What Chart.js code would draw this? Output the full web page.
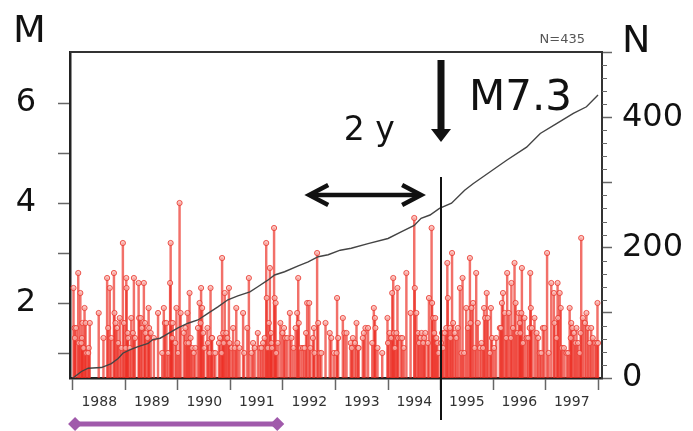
<!DOCTYPE html>
<html>
<head>
<meta charset="utf-8">
<script src="https://cdn.jsdelivr.net/npm/chart.js@4/dist/chart.umd.min.js"></script>
<style>
body{margin:0;background:#fff;}
#c{display:block;}
</style>
</head>
<body>
<canvas id="c" width="693" height="431"></canvas>
<script>
/* events: time (decimal year) and magnitude */
const quakeYears = [
1988.01,1988.03,1988.035,1988.06,1988.10,1988.11,1988.14,1988.16,1988.17,1988.18,
1988.20,1988.22,1988.24,1988.25,1988.29,1988.30,1988.32,1988.49,1988.58,1988.65,
1988.67,1988.70,1988.73,1988.78,1988.79,1988.81,1988.84,1988.86,1988.89,1988.92,
1988.95,1988.97,1989.00,1989.015,1989.02,1989.04,1989.05,1989.08,1989.11,1989.14,
1989.16,1989.18,1989.25,1989.26,1989.29,1989.31,1989.35,1989.37,1989.38,1989.42,
1989.44,1989.45,1989.48,1989.54,1989.62,
1989.70,1989.73,1989.75,1989.78,1989.81,1989.85,1989.86,1989.87,1989.89,1989.90,
1989.95,1989.97,1990.00,1990.03,1990.05,1990.11,1990.14,1990.16,1990.18,1990.20,
1990.22,1990.24,1990.27,1990.30,1990.33,1990.38,1990.41,1990.43,1990.44,1990.46,
1990.48,1990.50,1990.56,1990.57,1990.60,1990.62,1990.64,1990.65,1990.68,1990.71,
1990.78,1990.80,1990.83,1990.84,1990.86,1990.87,1990.89,1990.92,1990.94,1990.97,
1990.98,1991.02,1991.05,1991.08,1991.11,1991.13,1991.17,1991.24,1991.26,1991.32,
1991.35,
1991.40,1991.43,1991.46,1991.52,1991.56,1991.59,1991.62,1991.65,1991.68,1991.69,
1991.71,1991.73,1991.75,1991.77,1991.78,1991.79,1991.83,1991.84,1991.86,1991.87,
1991.90,1991.95,1991.99,1992.02,1992.04,1992.08,1992.13,1992.16,1992.20,1992.24,
1992.27,1992.29,1992.30,1992.34,1992.38,1992.41,1992.44,1992.46,1992.50,1992.52,
1992.57,1992.59,1992.60,1992.65,1992.67,1992.70,1992.73,1992.81,1992.89,1992.92,
1992.97,1993.02,1993.03,1993.05,
1993.14,1993.17,1993.21,1993.29,1993.31,1993.33,1993.37,1993.40,1993.43,1993.44,
1993.52,1993.54,1993.57,1993.62,1993.70,1993.73,1993.75,1993.76,1993.80,1993.89,
1993.99,1994.00,1994.03,1994.06,1994.08,1994.10,1994.11,1994.13,1994.16,1994.18,
1994.19,1994.24,1994.27,1994.30,1994.35,1994.43,1994.50,1994.51,1994.54,1994.57,
1994.59,1994.62,1994.64,1994.67,1994.69,1994.71,1994.76,1994.78,
1994.83,1994.84,1994.86,1994.88,1994.90,1994.92,1995.03,1995.05,1995.08,1995.11,
1995.13,1995.14,1995.18,1995.19,1995.22,1995.24,1995.27,1995.30,1995.33,1995.37,
1995.40,1995.42,1995.45,1995.49,1995.52,1995.56,1995.57,1995.59,1995.62,1995.65,
1995.68,1995.71,1995.75,1995.78,1995.81,1995.83,1995.85,1995.88,1995.90,1995.94,
1995.96,1995.98,1996.02,1996.06,1996.13,1996.15,1996.17,1996.19,1996.22,1996.25,
1996.27,1996.30,1996.34,1996.35,1996.38,1996.41,1996.43,1996.46,1996.49,
1994.94,1994.96,1995.01,
1996.51,1996.52,1996.54,1996.55,1996.57,1996.60,1996.64,1996.67,1996.70,1996.71,
1996.72,1996.74,1996.79,1996.83,1996.86,1996.89,1996.92,1996.95,1996.98,1997.03,
1997.06,1997.11,1997.16,1997.17,1997.21,1997.23,1997.24,1997.27,1997.29,1997.31,
1997.35,1997.40,1997.43,1997.46,1997.48,1997.49,1997.51,1997.54,1997.57,1997.59,
1997.62,1997.65,1997.67,1997.68,1997.71,1997.75,1997.78,1997.81,1997.84,1997.87,
1997.90,1997.94,1997.97,1997.99,1998.00
];
const quakeMags = [
2.3,1.5,1.3,1.5,2.6,1.2,2.2,1.2,1.3,1.6,
1.1,1.9,1.6,1.0,1.0,1.1,1.6,1.8,1.3,2.5,
1.5,2.3,1.3,2.6,1.8,1.6,1.5,1.2,1.7,1.1,
3.2,1.6,1.1,2.5,2.3,1.4,1.3,1.1,1.7,1.4,
2.5,1.3,2.4,1.7,1.7,1.5,2.4,1.6,1.4,1.3,
1.9,1.5,1.4,1.3,1.8,
1.0,1.9,1.6,1.6,1.0,2.4,3.2,1.6,1.3,1.6,
1.2,1.9,1.0,4.0,1.8,1.4,1.5,1.2,1.8,1.2,
2.2,1.3,1.1,1.0,1.1,1.5,2.0,1.6,2.3,1.9,
1.4,1.1,1.5,1.2,1.0,2.3,1.3,1.3,1.0,1.0,
1.2,1.3,1.0,2.9,1.4,1.2,2.2,1.4,1.3,2.3,
1.2,1.1,1.5,1.1,1.9,1.2,1.1,1.8,1.0,1.5,
2.5,
1.0,1.2,1.1,1.4,1.1,1.1,1.2,1.3,3.2,2.1,
1.1,1.6,2.7,1.4,1.2,1.1,3.5,2.1,2.0,1.0,
1.2,1.6,1.4,1.5,1.3,1.3,1.8,1.3,1.1,1.5,
1.8,2.5,1.6,1.1,1.1,1.1,1.4,2.0,2.0,1.1,
1.3,1.5,1.0,3.0,1.6,1.0,1.0,1.6,1.4,1.3,
1.0,1.0,2.1,1.3,
1.7,1.4,1.4,1.2,1.1,1.3,1.2,1.6,1.1,1.1,
1.3,1.4,1.5,1.5,1.2,1.9,1.7,1.5,1.1,1.0,
1.7,1.2,1.4,1.3,2.2,2.5,1.4,1.1,1.4,2.3,
1.3,1.3,1.3,1.1,2.6,1.8,3.7,2.3,1.8,1.4,
1.2,1.3,1.4,1.2,1.3,1.4,1.2,2.1,
3.5,2.0,1.7,1.4,1.7,1.3,1.4,1.1,1.4,1.5,
2.8,2.1,1.5,1.3,3.0,1.6,1.4,1.3,1.5,2.3,
1.0,2.5,1.0,1.9,1.5,2.9,1.6,1.9,2.0,1.1,
2.6,1.6,1.1,1.2,1.1,1.9,1.7,2.2,1.7,1.0,
1.9,1.3,1.1,1.3,1.5,1.5,2.0,2.2,1.8,1.3,
2.6,1.8,1.3,2.4,1.5,2.8,2.0,1.4,1.8,
1.2,1.0,1.2,
1.6,1.4,1.8,2.7,1.2,1.7,1.3,1.3,1.5,2.6,
1.9,1.5,1.7,1.4,1.3,1.0,1.0,1.5,1.5,3.0,
1.0,2.4,2.2,1.6,1.3,2.4,1.7,2.2,1.9,1.1,
1.1,1.0,1.0,1.9,1.3,1.6,1.5,1.4,1.2,1.5,
1.2,1.0,1.4,3.3,1.7,1.6,1.8,1.5,1.2,1.5,
1.3,1.2,1.2,2.0,1.2
];

/* cumulative number of events (right axis) */
const cumYears = [1988.00,1988.16,1988.29,1988.54,1988.73,1988.86,1988.95,1989.08,1989.24,1989.43,
  1989.52,1989.66,1989.81,1990.00,1990.19,1990.38,1990.57,1990.76,1990.95,1991.14,
  1991.37,1991.52,1991.71,1991.84,1992.03,1992.29,1992.48,1992.67,1992.86,1993.09,
  1993.30,1993.62,1994.00,1994.25,1994.50,1994.63,1994.80,1994.98,1995.21,1995.46,
  1995.62,1995.94,1996.26,1996.64,1996.90,1997.21,1997.53,1997.78,1998.00];
const cumCounts = [0,10,15,16,22,30,38,43,48,53,
  59,61,68,77,84,89,99,109,120,126,
  132,140,150,158,163,172,178,186,189,196,
  199,206,214,224,234,245,250,260,268,288,
  298,316,334,354,375,390,406,416,434];

const yearTicks = [1988,1989,1990,1991,1992,1993,1994,1995,1996,1997,1998];
const magTicks = [1,2,3,4,5,6];
const countTicks = [0,100,200,300,400,500];
const totalCount = 435;
const mainshockYear = 1995.0;
const mainshockLabel = "M7.3";
const windowLabel = "2 y";
const windowYears = [1992.48, 1994.65];
const studyYears = [1988.04, 1991.89];

const FONT = "'DejaVu Sans', sans-serif";
const RED = "rgba(236,44,34,0.68)";

const annot = {
  id: "annot",
  afterDraw(chart) {
    const {ctx, chartArea: a, scales} = chart;
    const xs = scales.x, ym = scales.y, yn = scales.yN;
    ctx.save();

    // frame top
    ctx.strokeStyle = "#333"; ctx.lineWidth = 2;
    ctx.beginPath(); ctx.moveTo(a.left, a.top); ctx.lineTo(a.right + 1, a.top); ctx.stroke();

    // minor ticks on N axis
    ctx.strokeStyle = "#666"; ctx.lineWidth = 1.2;
    ctx.beginPath();
    for (let n = 20; n < 500; n += 20) {
      if (n % 100 === 0) continue;
      const py = Math.round(yn.getPixelForValue(n)) + 0.5;
      ctx.moveTo(a.right, py); ctx.lineTo(a.right + 5, py);
    }
    ctx.stroke();

    // mainshock line
    const mx = Math.round(xs.getPixelForValue(mainshockYear));
    ctx.strokeStyle = "#111"; ctx.lineWidth = 2;
    ctx.beginPath(); ctx.moveTo(mx, ym.getPixelForValue(4.52)); ctx.lineTo(mx, a.bottom + 42); ctx.stroke();

    // down arrow
    const top = ym.getPixelForValue(6.86), tip = ym.getPixelForValue(5.22);
    ctx.fillStyle = "#111";
    ctx.fillRect(mx - 3.5, top, 7, tip - top - 12);
    ctx.beginPath(); ctx.moveTo(mx - 10, tip - 13); ctx.lineTo(mx + 10, tip - 13); ctx.lineTo(mx, tip); ctx.closePath(); ctx.fill();

    ctx.font = "42px " + FONT; ctx.textAlign = "left"; ctx.textBaseline = "alphabetic";
    ctx.fillText(mainshockLabel, mx + 28, ym.getPixelForValue(5.86));

    // 2 y double arrow
    const x1 = xs.getPixelForValue(windowYears[0]), x2 = xs.getPixelForValue(windowYears[1]);
    const ay = ym.getPixelForValue(4.16);
    ctx.strokeStyle = "#111"; ctx.lineWidth = 4.5; ctx.lineJoin = "miter";
    ctx.beginPath(); ctx.moveTo(x1 + 2, ay); ctx.lineTo(x2 - 2, ay); ctx.stroke();
    ctx.beginPath();
    ctx.moveTo(x1 + 20, ay - 10); ctx.lineTo(x1 + 1, ay); ctx.lineTo(x1 + 20, ay + 10);
    ctx.moveTo(x2 - 20, ay - 10); ctx.lineTo(x2 - 1, ay); ctx.lineTo(x2 - 20, ay + 10);
    ctx.stroke();
    ctx.font = "33px " + FONT; ctx.textAlign = "center";
    ctx.fillText(windowLabel, (x1 + x2) / 2 + 4, ym.getPixelForValue(5.26));

    // study period bar
    const p1 = xs.getPixelForValue(studyYears[0]), p2 = xs.getPixelForValue(studyYears[1]);
    const py = a.bottom + 46;
    ctx.strokeStyle = "#a05aab"; ctx.fillStyle = "#a05aab"; ctx.lineWidth = 5;
    ctx.beginPath(); ctx.moveTo(p1, py); ctx.lineTo(p2, py); ctx.stroke();
    [p1, p2].forEach(px => {
      ctx.beginPath();
      ctx.moveTo(px - 7, py); ctx.lineTo(px, py - 7); ctx.lineTo(px + 7, py); ctx.lineTo(px, py + 7);
      ctx.closePath(); ctx.fill();
    });

    // axis titles
    ctx.fillStyle = "#111"; ctx.textAlign = "left";
    ctx.font = "38px " + FONT;
    ctx.fillText("M", a.left - 57, a.top - 10);
    ctx.fillText("N", a.right + 20, a.top);
    ctx.fillStyle = "#555"; ctx.font = "13px " + FONT; ctx.textAlign = "right";
    ctx.fillText("N=" + totalCount, a.right - 17, a.top - 9);
    ctx.restore();
  }
};

const tickSet = list => scale => { scale.ticks = list.map(v => ({value: v})); };

new Chart(document.getElementById("c"), {
  type: "bar",
  data: {
    datasets: [
      {
        type: "line", yAxisID: "yN", order: 0,
        data: cumYears.map((t, i) => ({x: t, y: cumCounts[i]})),
        borderColor: "#444", borderWidth: 1.4, pointRadius: 0, tension: 0, fill: false
      },
      {
        type: "scatter", yAxisID: "y", order: 1,
        data: quakeYears.map((t, i) => ({x: t, y: quakeMags[i]})),
        pointRadius: 2.6, borderWidth: 1, borderColor: "rgba(232,50,40,0.8)",
        backgroundColor: "rgba(250,185,180,0.75)"
      },
      {
        type: "bar", yAxisID: "y", order: 2,
        data: quakeYears.map((t, i) => ({x: t, y: quakeMags[i]})),
        backgroundColor: RED, borderWidth: 0, barThickness: 1.8, grouped: false
      }
    ]
  },
  options: {
    responsive: false,
    animation: false,
    layout: {padding: {top: 52, left: 0, right: 0, bottom: 0}},
    plugins: {legend: {display: false}, tooltip: {enabled: false}},
    scales: {
      x: {
        type: "linear", position: "bottom", offset: false,
        min: 1987.943, max: 1998.076,
        afterBuildTicks: s => {
          const t = [];
          yearTicks.forEach(v => { t.push({value: v}); if (v < 1998) t.push({value: v + 0.5}); });
          s.ticks = t;
        },
        afterFit: s => { s.height = 53; },
        grid: {
          drawOnChartArea: false, offset: false, tickLength: 12, tickWidth: 1.5,
          tickColor: c => (c.tick && Number.isInteger(c.tick.value)) ? "#666" : "rgba(0,0,0,0)"
        },
        border: {color: "#222", width: 2.5},
        ticks: {
          autoSkip: false, maxRotation: 0, padding: 4, color: "#333",
          font: {family: FONT, size: 14},
          callback: v => (v % 1 === 0.5) ? String(Math.floor(v)) : ""
        }
      },
      y: {
        type: "linear", position: "left", min: 0.5, max: 7.02,
        afterBuildTicks: tickSet(magTicks),
        afterFit: s => { s.width = 70; },
        grid: {drawOnChartArea: false, tickLength: 12, tickWidth: 1.5, tickColor: "#666"},
        border: {color: "#222", width: 2.5},
        ticks: {
          padding: 22, color: "#111", font: {family: FONT, size: 32},
          callback: v => (v % 2 === 0) ? String(v) : ""
        }
      },
      yN: {
        type: "linear", position: "right", min: 0, max: 500,
        afterBuildTicks: tickSet(countTicks),
        afterFit: s => { s.width = 91; },
        grid: {drawOnChartArea: false, tickLength: 10, tickWidth: 1.5, tickColor: "#666"},
        border: {color: "#333", width: 2},
        ticks: {
          padding: 10, color: "#111", font: {family: FONT, size: 32},
          callback: v => (v % 200 === 0) ? String(v) : ""
        }
      }
    }
  },
  plugins: [annot]
});
</script>
</body>
</html>
